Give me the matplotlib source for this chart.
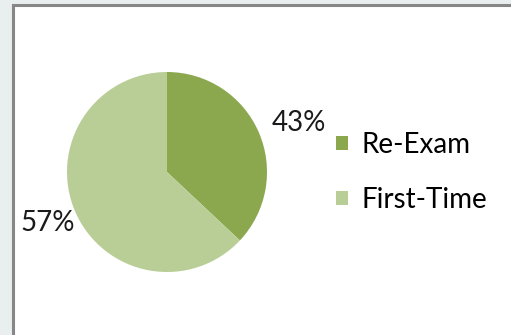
import matplotlib.pyplot as plt
from matplotlib.patches import Rectangle

labels = ['Re-Exam', 'First-Time']
slice_sizes = [37, 63]          # slice sizes as drawn in the reference
pct_labels = ['43%', '57%']     # percentages printed on the reference
colors = ['#8BA84F', '#B9CE96']

W, H = 511, 335
fig = plt.figure(figsize=(W / 100, H / 100), dpi=100, facecolor='#E9EFEF')
plt.rcParams['font.family'] = ['Lato', 'DejaVu Sans']

# chart area frame
fig.patches.append(Rectangle((13 / W, -0.1), 1.2, 1 - 5 / H + 0.1, transform=fig.transFigure,
                             facecolor='white', edgecolor='#878787', linewidth=2.2, zorder=-5))

cx, cy, r = 167, 172, 100
ax = fig.add_axes([(cx - r) / W, 1 - (cy + r) / H, 2 * r / W, 2 * r / H])
ax.set_zorder(2)
wedges, _ = ax.pie(slice_sizes, colors=colors, startangle=90, counterclock=False, radius=1)
ax.set_xlim(-1, 1)
ax.set_ylim(-1, 1)
ax.set_aspect('auto')
ax.axis('off')

label_pos = [(1.32, 0.49), (-1.19, -0.51)]
for (x, y), t in zip(label_pos, pct_labels):
    ax.text(x, y, t, fontsize=20, color='#1a1a1a', ha='center', va='center', clip_on=False)

fig.legend(wedges, labels, loc='upper left', bbox_to_anchor=(336 / W, 1 - 132 / H),
           frameon=False, fontsize=20, handlelength=0.42, handleheight=0.42,
           handletextpad=0.5, labelspacing=1.05, borderaxespad=0, borderpad=0)

fig.savefig('out.png', dpi=100, facecolor=fig.get_facecolor())
